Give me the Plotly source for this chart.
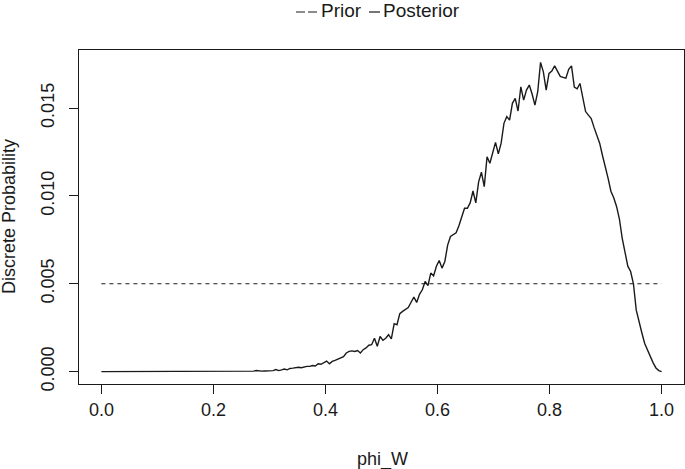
import numpy as np
import plotly.graph_objects as go

# ---- data ----
p_grid = np.linspace(0, 1, 200)
prior = [0.005] * 200
posterior = [
    0, 0, 0, 0, 0, 0, 0, 0, 0, 0,
    0, 0, 0, 0, 0, 0, 0, 0, 0, 0,
    0, 0, 0, 0, 0, 0, 0, 0, 0, 0,
    0, 0, 0, 0, 0, 0, 0, 0, 0, 0,
    0, 0, 0, 0, 0, 0.00001, 0.00001, 0.00001, 0.00002, 0.00001,
    0.00002, 0.00002, 0.00003, 0.00002, 0.00003, 0.00006, 0.00003, 0.00003, 0.00004, 0.00004,
    0.00005, 0.00006, 0.00012, 0.00006, 0.0001, 0.00015, 0.0001, 0.00018, 0.0002, 0.00023,
    0.00025, 0.00022, 0.00028, 0.0003, 0.0003, 0.00035, 0.00032, 0.00045, 0.00042, 0.0005,
    0.0006, 0.00045, 0.00058, 0.00064, 0.0007, 0.00078, 0.00085, 0.00106, 0.00115, 0.00118,
    0.00115, 0.0012, 0.00106, 0.00125, 0.00135, 0.0015, 0.00153, 0.0019, 0.00144, 0.002,
    0.00178, 0.0019, 0.0021, 0.00186, 0.00273, 0.00267, 0.0033, 0.00343, 0.00352, 0.00365,
    0.00395, 0.00424, 0.00394, 0.0044, 0.00466, 0.00513, 0.00489, 0.00561, 0.00545, 0.006,
    0.00632, 0.00589, 0.00627, 0.0072, 0.00769, 0.00778, 0.0079, 0.0083, 0.0088, 0.0093,
    0.0093, 0.0096, 0.01028, 0.0096, 0.0108, 0.01135, 0.01053, 0.01223, 0.01186, 0.0125,
    0.01305, 0.01239, 0.0130, 0.01413, 0.01451, 0.01432, 0.01527, 0.01555, 0.01483, 0.01621,
    0.01545, 0.01602, 0.01631, 0.0158, 0.01517, 0.01593, 0.0176, 0.01706, 0.01602, 0.01697,
    0.0171, 0.0174, 0.01708, 0.0168, 0.01675, 0.0167, 0.0172, 0.0174, 0.0162, 0.0161,
    0.0164, 0.0156, 0.0148, 0.0146, 0.0144, 0.0139, 0.0134, 0.0130, 0.0123, 0.0117,
    0.0110, 0.01027, 0.0099, 0.0094, 0.0087, 0.0076, 0.0068, 0.0060, 0.0057, 0.0050,
    0.0035, 0.0028, 0.0022, 0.0016, 0.0012, 0.00087, 0.0005, 0.00021, 0.00006, 0.0,
]
assert len(posterior) == 200

x_tickvals = [0.0, 0.2, 0.4, 0.6, 0.8, 1.0]
x_ticktext = ["0.0", "0.2", "0.4", "0.6", "0.8", "1.0"]
y_tickvals = [0.000, 0.005, 0.010, 0.015]
y_ticktext = ["0.000", "0.005", "0.010", "0.015"]

legend_labels = ["Prior", "Posterior"]
x_label = "phi_W"
y_label = "Discrete Probability"

# ---- figure ----
FONT = "Liberation Sans, Arial, Helvetica, sans-serif"
INK = "#1a1a1a"
W, H = 685, 469
ML, MR, MT, MB = 79, 1, 50, 85
PW, PH = W - ML - MR, H - MT - MB


def px_x(px):
    return (px - ML) / PW


def px_y(py):
    return (H - MB - py) / PH


ymax = max(max(posterior), max(prior))
ypad = 0.04 * ymax

fig = go.Figure()
fig.add_trace(go.Scatter(x=p_grid, y=prior, mode="lines",
                         line=dict(color=INK, width=1.2, dash="4px,4px"),
                         name=legend_labels[0], showlegend=False))
fig.add_trace(go.Scatter(x=p_grid, y=posterior, mode="lines",
                         line=dict(color=INK, width=1.4),
                         name=legend_labels[1], showlegend=False))

axis_common = dict(showgrid=False, zeroline=False, showline=True, mirror=True,
                   linecolor=INK, linewidth=1, ticks="outside", ticklen=9,
                   tickwidth=1, tickcolor=INK,
                   tickfont=dict(family=FONT, size=18, color=INK))

fig.update_xaxes(range=[-0.04, 1.04], tickmode="array", tickvals=x_tickvals,
                 ticktext=x_ticktext, **axis_common)
fig.update_yaxes(range=[-ypad, ymax + ypad], tickmode="array", tickvals=y_tickvals,
                 ticktext=y_ticktext, tickangle=-90, ticklabelstandoff=8,
                 **axis_common)

annotations = [
    dict(text=x_label, x=px_x(382), y=px_y(459), xref="paper", yref="paper",
         showarrow=False, xanchor="center", yanchor="middle",
         font=dict(family=FONT, size=18, color=INK)),
    dict(text=y_label, x=px_x(9), y=0.5, xref="paper", yref="paper",
         showarrow=False, xanchor="center", yanchor="middle", textangle=-90,
         font=dict(family=FONT, size=18, color=INK)),
    dict(text=legend_labels[0], x=px_x(319), y=px_y(11), xref="paper", yref="paper",
         showarrow=False, xanchor="left", yanchor="middle",
         font=dict(family=FONT, size=19, color=INK)),
    dict(text=legend_labels[1], x=px_x(381), y=px_y(11), xref="paper", yref="paper",
         showarrow=False, xanchor="left", yanchor="middle",
         font=dict(family=FONT, size=19, color=INK)),
]

shapes = [
    dict(type="line", xref="paper", yref="paper", x0=px_x(296), x1=px_x(317),
         y0=px_y(12), y1=px_y(12), line=dict(color=INK, width=1.2, dash="9px,3px")),
    dict(type="line", xref="paper", yref="paper", x0=px_x(369), x1=px_x(380),
         y0=px_y(12), y1=px_y(12), line=dict(color=INK, width=1.2)),
]

fig.update_layout(width=W, height=H, margin=dict(l=ML, r=MR, t=MT, b=MB),
                  paper_bgcolor="white", plot_bgcolor="white",
                  annotations=annotations, shapes=shapes, showlegend=False,
                  font=dict(family=FONT, color=INK))

fig.write_html("out.html")
